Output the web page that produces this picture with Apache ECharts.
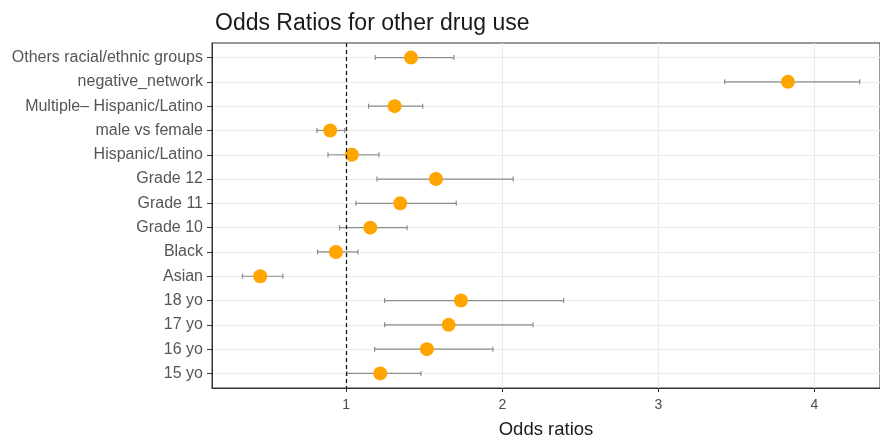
<!DOCTYPE html>
<html>
<head>
<meta charset="utf-8">
<script src="https://cdn.jsdelivr.net/npm/echarts@6/dist/echarts.min.js"></script>
<style>html,body{margin:0;padding:0;background:#fff;}#c{width:880px;height:438px;}</style>
</head>
<body>
<div id="c"></div>
<script>
// Categories listed top to bottom
var categories = ["Others racial/ethnic groups","negative_network","Multiple\u2013 Hispanic/Latino","male vs female","Hispanic/Latino","Grade 12","Grade 11","Grade 10","Black","Asian","18 yo","17 yo","16 yo","15 yo"];
var oddsRatio = [1.415, 3.83, 1.31, 0.897, 1.036, 1.575, 1.346, 1.154, 0.934, 0.449, 1.735, 1.656, 1.517, 1.218];
var ciLow    = [1.186, 3.425, 1.143, 0.812, 0.883, 1.197, 1.062, 0.957, 0.816, 0.335, 1.246, 1.246, 1.182, 1.004];
var ciHigh   = [1.69, 4.29, 1.49, 0.99, 1.21, 2.07, 1.705, 1.39, 1.075, 0.594, 2.393, 2.197, 1.94, 1.479];
var xTicks = [1, 2, 3, 4];
var refLine = 1;

var idx = categories.map(function(_, i){ return i; });
var pointData = oddsRatio.map(function(v, i){ return [v, i]; });
var errData = categories.map(function(_, i){ return [ciLow[i], ciHigh[i], i]; });

var chart = echarts.init(document.getElementById('c'), null, {renderer: 'canvas'});
var FONT = '"Liberation Sans", Arial, sans-serif';
chart.setOption({
  animation: false,
  backgroundColor: '#ffffff',
  title: {
    text: 'Odds Ratios for other drug use',
    left: 210, top: 7,
    textStyle: {fontFamily: FONT, fontSize: 23, fontWeight: 'normal', color: '#1a1a1a'}
  },
  grid: {left: 212, right: 0, top: 43, bottom: 50, outerBoundsMode: 'none', containLabel: false,
    show: true, borderColor: '#333', borderWidth: 1, backgroundColor: 'transparent'},
  xAxis: {
    type: 'value', min: 0.14, max: 4.42,
    name: 'Odds ratios', nameLocation: 'middle', nameGap: 32,
    nameTextStyle: {fontFamily: FONT, fontSize: 18.5, color: '#1a1a1a'},
    axisLine: {show: true, onZero: false, lineStyle: {color: '#333', width: 1}},
    axisTick: {show: true, customValues: xTicks, length: 4, lineStyle: {color: '#333'}},
    axisLabel: {customValues: xTicks, margin: 10, fontFamily: FONT, fontSize: 14, color: '#4d4d4d'},
    splitLine: {show: true, lineStyle: {color: '#ebebeb', width: 1}}
  },
  yAxis: {
    type: 'value', min: -0.6, max: 13.6, inverse: true,
    axisLine: {show: true, onZero: false, lineStyle: {color: '#333', width: 1}},
    axisTick: {show: true, customValues: idx, length: 5, lineStyle: {color: '#333'}},
    axisLabel: {customValues: idx, margin: 9, fontFamily: FONT, fontSize: 16, color: '#555555',
      formatter: function(v){ return categories[Math.round(v)] || ''; }},
    splitLine: {show: true, lineStyle: {color: '#ebebeb', width: 1}}
  },
  series: [
    {
      type: 'custom',
      data: errData,
      z: 2,
      renderItem: function(params, api){
        var y = api.value(2);
        var p1 = api.coord([api.value(0), y]);
        var p2 = api.coord([api.value(1), y]);
        var h = 2.5;
        var st = {stroke: '#8c8c8c', lineWidth: 1.2};
        return {type: 'group', children: [
          {type: 'line', shape: {x1: p1[0], y1: p1[1], x2: p2[0], y2: p2[1]}, style: st},
          {type: 'line', shape: {x1: p1[0], y1: p1[1]-h, x2: p1[0], y2: p1[1]+h}, style: st},
          {type: 'line', shape: {x1: p2[0], y1: p2[1]-h, x2: p2[0], y2: p2[1]+h}, style: st}
        ]};
      }
    },
    {
      type: 'scatter',
      data: pointData,
      symbol: 'circle', symbolSize: 14,
      itemStyle: {color: '#FFA500', opacity: 1},
      z: 3,
      markLine: {
        silent: true, symbol: 'none', label: {show: false},
        lineStyle: {color: '#1a1a1a', type: [4, 3], width: 1.3},
        data: [{xAxis: refLine}]
      }
    }
  ]
});
</script>
</body>
</html>
